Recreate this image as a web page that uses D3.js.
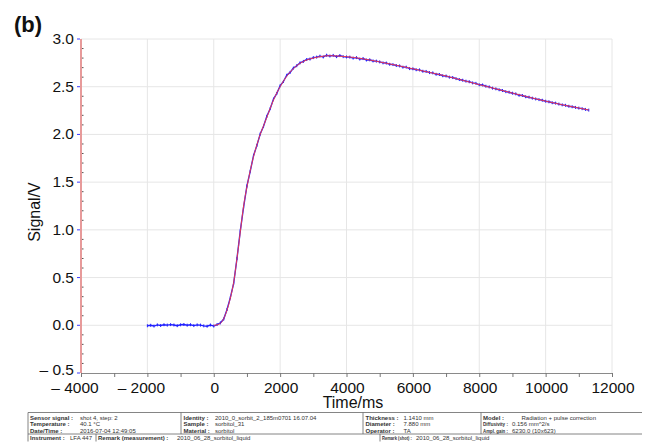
<!DOCTYPE html>
<html>
<head>
<meta charset="utf-8">
<script src="https://cdn.jsdelivr.net/npm/d3@7"></script>
<style>
  body { margin: 0; background: #fff; }
  svg { display: block; font-family: "Liberation Sans", Arial, sans-serif; }
</style>
</head>
<body>
<div id="chart"></div>
<script>
'use strict';

// measured signal (time in ms, signal in V)
var measured = [
  [-2000, -0.005], [-1900, 0.0], [-1800, -0.008], [-1700, 0.004], [-1600, -0.002],
  [-1500, 0.006], [-1400, 0.002], [-1300, 0.007], [-1200, 0.003], [-1100, -0.004],
  [-1000, 0.005], [-900, 0.008], [-800, 0.001], [-700, 0.006], [-600, -0.003],
  [-500, 0.004], [-400, 0.002], [-300, -0.006], [-200, -0.01], [-100, 0.003],
  [0, -0.008], [100, 0.008], [200, 0.025], [300, 0.065], [400, 0.165],
  [500, 0.29], [600, 0.44], [700, 0.70], [800, 0.99], [900, 1.24],
  [1000, 1.46], [1100, 1.615], [1200, 1.78], [1300, 1.885], [1400, 2.005],
  [1500, 2.085], [1600, 2.19], [1700, 2.27], [1800, 2.37], [1900, 2.43],
  [2000, 2.51], [2100, 2.555], [2200, 2.62], [2300, 2.65], [2400, 2.695],
  [2500, 2.72], [2600, 2.75], [2700, 2.765], [2800, 2.785], [2900, 2.79],
  [3000, 2.805], [3100, 2.81], [3200, 2.82], [3300, 2.812], [3400, 2.83],
  [3500, 2.822], [3600, 2.828], [3700, 2.815], [3800, 2.826], [3900, 2.815],
  [4000, 2.812], [4100, 2.81], [4200, 2.8], [4300, 2.805], [4400, 2.79],
  [4500, 2.795], [4600, 2.78], [4700, 2.782], [4800, 2.77], [4900, 2.768],
  [5000, 2.76], [5100, 2.75], [5200, 2.748], [5300, 2.735], [5400, 2.732],
  [5500, 2.722], [5600, 2.718], [5700, 2.705], [5800, 2.705], [5900, 2.69],
  [6000, 2.688], [6100, 2.678], [6200, 2.676], [6300, 2.662], [6400, 2.66],
  [6500, 2.648], [6600, 2.645], [6700, 2.63], [6800, 2.628], [6900, 2.615],
  [7000, 2.612], [7100, 2.6], [7200, 2.596], [7300, 2.585], [7400, 2.575],
  [7500, 2.568], [7600, 2.558], [7700, 2.552], [7800, 2.54], [7900, 2.535],
  [8000, 2.52], [8100, 2.518], [8200, 2.505], [8300, 2.498], [8400, 2.485],
  [8500, 2.478], [8600, 2.468], [8700, 2.46], [8800, 2.448], [8900, 2.442],
  [9000, 2.432], [9100, 2.425], [9200, 2.41], [9300, 2.408], [9400, 2.395],
  [9500, 2.39], [9600, 2.38], [9700, 2.372], [9800, 2.365], [9900, 2.358],
  [10000, 2.348], [10100, 2.342], [10200, 2.332], [10300, 2.328], [10400, 2.318],
  [10500, 2.31], [10600, 2.305], [10700, 2.295], [10800, 2.29], [10900, 2.283],
  [11000, 2.276], [11100, 2.27], [11200, 2.262], [11300, 2.255]
];

// model fit (time in ms, signal in V)
var fitted = [
  [0, 0.0], [100, 0.005], [200, 0.02], [300, 0.07], [400, 0.16], [500, 0.285],
  [600, 0.45], [700, 0.70], [800, 0.98], [900, 1.25], [1000, 1.45], [1100, 1.62],
  [1200, 1.77], [1300, 1.89], [1400, 2.0], [1500, 2.09], [1600, 2.18], [1800, 2.36],
  [2000, 2.5], [2200, 2.61], [2400, 2.69], [2600, 2.745], [2800, 2.78], [3000, 2.80],
  [3200, 2.815], [3500, 2.825], [3800, 2.82], [4000, 2.815], [4500, 2.792],
  [5000, 2.76], [5500, 2.725], [6000, 2.688], [6500, 2.65], [7000, 2.612],
  [7500, 2.567], [8000, 2.522], [8500, 2.478], [9000, 2.433], [9500, 2.39],
  [10000, 2.349], [10500, 2.311], [11000, 2.277], [11300, 2.256]
];

var xTicks = [-4000, -2000, 0, 2000, 4000, 6000, 8000, 10000, 12000];
var yTicks = [-0.5, 0.0, 0.5, 1.0, 1.5, 2.0, 2.5, 3.0];

// footer info block: [label, value]
var infoCol1 = [["Sensor signal :", "shot 4, step: 2"], ["Temperature :", "40.1 \u00B0C"], ["Date/Time :", "2016-07-04 12:49:05"]];
var infoCol2 = [["Identity :", "2010_0_sorbit_2_185m0701 16.07.04"], ["Sample :", "sorbitol_31"], ["Material :", "sorbitol"]];
var infoCol3 = [["Thickness :", "1.1410 mm"], ["Diameter :", "7.880 mm"], ["Operator :", "TA"]];
var infoCol4 = [["Model :", "Radiation + pulse correction"], ["Diffusivity :", "0.156 mm^2/s"], ["Ampl. gain :", "6230.0 (10x623)"]];
var infoLast = [["Instrument :", "LFA 447"], ["Remark (measurement) :", "2010_06_28_sorbitol_liquid"], ["Remark (shot) :", "2010_06_28_sorbitol_liquid"]];

var W = 648, H = 448;
var plotL = 81, plotR = 612, plotT = 39, plotB = 373;

var svg = d3.select("#chart").append("svg")
    .attr("width", W)
    .attr("height", H);

var x = d3.scaleLinear().domain([-4000, 12000]).range([plotL, plotR]);
var y = d3.scaleLinear().domain([-0.5, 3.0]).range([plotB, plotT]);

// grid
svg.append("g").selectAll("line")
    .data(xTicks.slice(1))
    .enter().append("line")
    .attr("x1", function (d) { return x(d); })
    .attr("x2", function (d) { return x(d); })
    .attr("y1", plotT).attr("y2", plotB)
    .attr("stroke", "#e6e6e6").attr("stroke-width", 1);
svg.append("g").selectAll("line")
    .data(yTicks.slice(1))
    .enter().append("line")
    .attr("x1", plotL).attr("x2", plotR)
    .attr("y1", function (d) { return y(d); })
    .attr("y2", function (d) { return y(d); })
    .attr("stroke", "#e6e6e6").attr("stroke-width", 1);

// bottom axis
var xAxis = svg.append("g")
    .attr("transform", "translate(0," + plotB + ")")
    .call(d3.axisBottom(x).tickValues(d3.range(-4000, 12001, 1000)).tickSize(4).tickFormat(""));
xAxis.select(".domain").attr("stroke", "#8a8a8a");
xAxis.selectAll(".tick line").attr("stroke", "#777");

svg.append("g").selectAll("text")
    .data(xTicks)
    .enter().append("text")
    .attr("x", function (d) { return x(d) + (d < 0 ? -6 : 1); })
    .attr("y", 392.5)
    .attr("text-anchor", "middle")
    .attr("font-size", 15.5)
    .attr("fill", "#111")
    .text(function (d) { return d < 0 ? "\u2013 " + Math.abs(d) : d; });

// left axis (pink line, blue major ticks, dark minor ticks)
svg.append("line")
    .attr("x1", plotL).attr("x2", plotL)
    .attr("y1", plotT).attr("y2", plotB)
    .attr("stroke", "#e79a9a").attr("stroke-width", 2);
svg.append("g").selectAll("line")
    .data(d3.range(-4, 30).map(function (i) { return i / 10; }).filter(function (v) { return Math.abs(v * 2 - Math.round(v * 2)) > 0.01; }))
    .enter().append("line")
    .attr("x1", plotL + 1).attr("x2", plotL + 2.5)
    .attr("y1", function (d) { return y(d); })
    .attr("y2", function (d) { return y(d); })
    .attr("stroke", "#555").attr("stroke-width", 1);
svg.append("g").selectAll("line")
    .data(yTicks)
    .enter().append("line")
    .attr("x1", plotL - 4).attr("x2", plotL - 1)
    .attr("y1", function (d) { return y(d); })
    .attr("y2", function (d) { return y(d); })
    .attr("stroke", "#3a3aff").attr("stroke-width", 1);
svg.append("g").selectAll("text")
    .data(yTicks)
    .enter().append("text")
    .attr("x", 74)
    .attr("y", function (d) { return y(d) + (d < 0 ? 1.5 : 5); })
    .attr("text-anchor", "end")
    .attr("font-size", 15.5)
    .attr("fill", "#111")
    .text(function (d) { return d < 0 ? "\u2013 " + d3.format(".1f")(-d) : d3.format(".1f")(d); });

// axis titles
svg.append("text")
    .attr("x", 353).attr("y", 408)
    .attr("text-anchor", "middle")
    .attr("font-size", 16)
    .attr("fill", "#111")
    .text("Time/ms");
svg.append("text")
    .attr("transform", "translate(40,212) rotate(-90)")
    .attr("text-anchor", "middle")
    .attr("font-size", 16)
    .attr("fill", "#111")
    .text("Signal/V");
svg.append("text")
    .attr("x", 14).attr("y", 32)
    .attr("font-size", 22)
    .attr("font-weight", "bold")
    .attr("fill", "#111")
    .text("(b)");

// measured signal
var line = d3.line()
    .x(function (d) { return x(d[0]); })
    .y(function (d) { return y(d[1]); });
svg.append("path")
    .datum(measured)
    .attr("fill", "none")
    .attr("stroke", "#2020ff")
    .attr("stroke-width", 1.4)
    .attr("d", line);
svg.append("g").selectAll("line")
    .data(measured)
    .enter().append("line")
    .attr("x1", function (d) { return x(d[0]); })
    .attr("x2", function (d) { return x(d[0]); })
    .attr("y1", function (d) { return y(d[1]) - 1.5; })
    .attr("y2", function (d) { return y(d[1]) + 1.5; })
    .attr("stroke", "#2020ff").attr("stroke-width", 1);

// model fit
svg.append("path")
    .datum(fitted)
    .attr("fill", "none")
    .attr("stroke", "#ff3a3a")
    .attr("stroke-width", 0.9)
    .attr("d", line.curve(d3.curveMonotoneX));

// footer table
var tbl = svg.append("g").attr("fill", "#333").attr("font-size", 6);
var rowY = [419.5, 426, 432.5];
function cell(lx, vx, ty, r) {
    // labels are squeezed horizontally when they would run into the value
    var lab = tbl.append("text").attr("font-weight", "bold").text(r[0]);
    var room = vx - lx - 4;
    var len = lab.node().getComputedTextLength();
    var k = Math.min(1, room / len);
    lab.attr("transform", "translate(" + lx + "," + ty + ") scale(" + k + ",1)");
    tbl.append("text").attr("x", vx).attr("y", ty).text(r[1]);
}
infoCol1.forEach(function (r, i) { cell(30, 80, rowY[i], r); });
infoCol2.forEach(function (r, i) { cell(183.5, 215, rowY[i], r); });
infoCol3.forEach(function (r, i) { cell(365.5, 403.5, rowY[i], r); });
infoCol4.forEach(function (r, i) { cell(483, i === 0 ? 521.5 : 512, rowY[i], r); });
var lastX = [[30, 70], [98, 177], [382, 416]];
infoLast.forEach(function (r, i) { cell(lastX[i][0], lastX[i][1], 439.5, r); });

var rules = svg.append("g").attr("stroke", "#666").attr("stroke-width", 0.8);
rules.append("line").attr("x1", 28).attr("x2", 642).attr("y1", 412.5).attr("y2", 412.5);
rules.append("line").attr("x1", 28).attr("x2", 642).attr("y1", 434).attr("y2", 434);
[28, 181, 363, 481].forEach(function (vx) {
    rules.append("line").attr("x1", vx).attr("x2", vx).attr("y1", 412.5).attr("y2", 434);
});
[28, 96, 380].forEach(function (vx) {
    rules.append("line").attr("x1", vx).attr("x2", vx).attr("y1", 434).attr("y2", 441.5);
});
</script>
</body>
</html>
